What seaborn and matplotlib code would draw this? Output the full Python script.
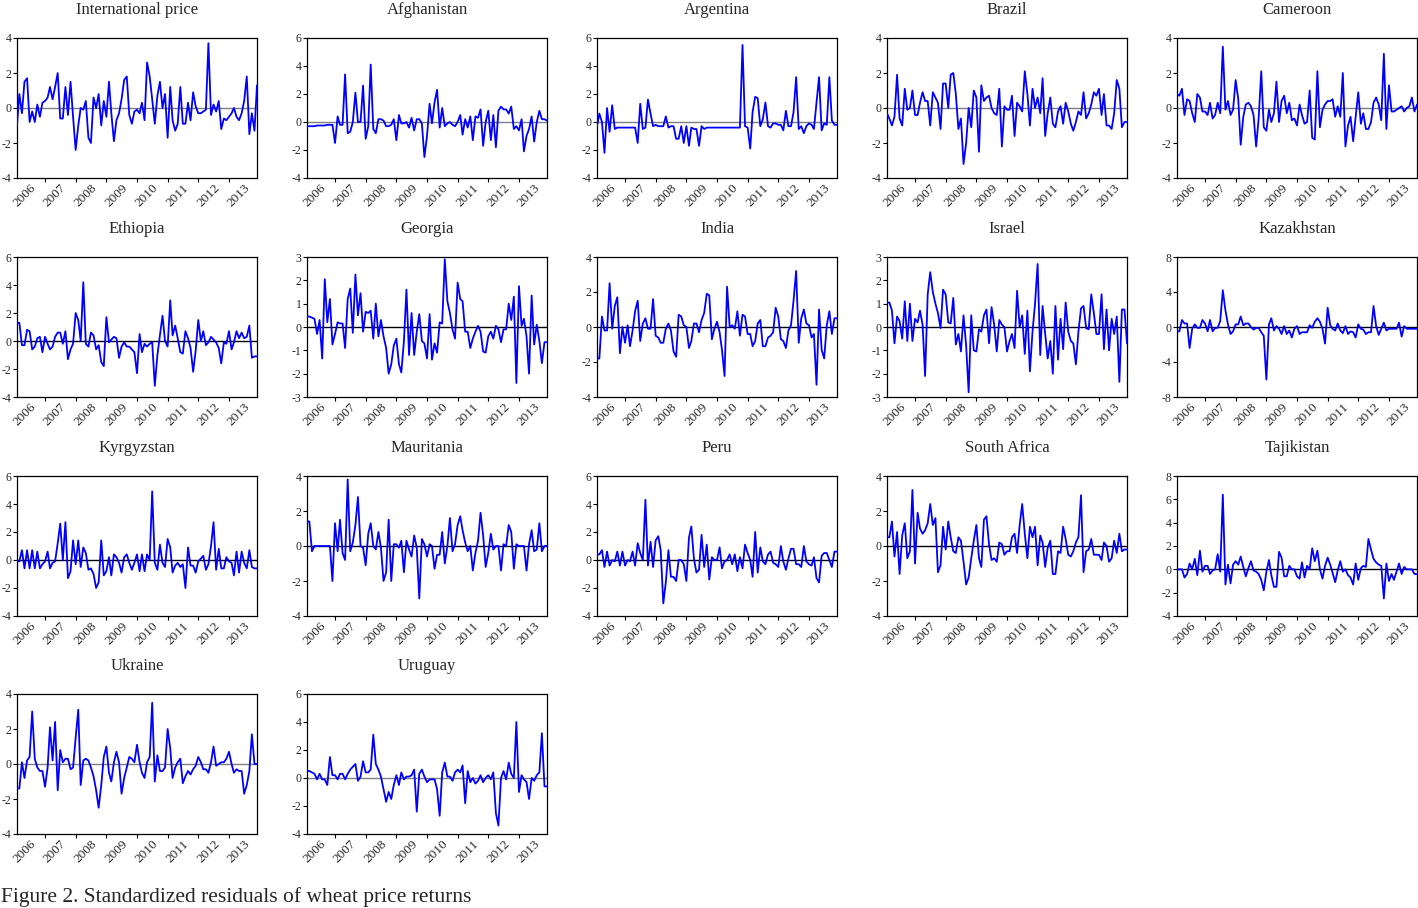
import numpy as np
import pandas as pd
import matplotlib
matplotlib.use("Agg")
import matplotlib.pyplot as plt
import matplotlib.dates as mdates
import seaborn as sns

# ---------------- data (standardized residuals, monthly Feb 2006 - Dec 2013) ----------------
intl_price = [
    -1.0, 0.8, -0.3, 1.5, 1.7, -0.8, -0.2, -0.8, 0.2, -0.5, 0.3,
    0.4, 0.6, 1.2, 0.5, 1.2, 2.0, -0.6, -0.6, 1.2, -0.4, 1.5, -0.5,
    -2.4, -1.0, 0.0, -0.1, 0.4, -1.7, -2.0, 0.6, 0.0, 0.8, -1.0, 0.4,
    -0.5, 1.5, -0.3, -1.9, -0.7, -0.3, 0.5, 1.6, 1.8, -0.4, -0.9, -0.2,
    -0.1, -0.3, 0.3, -0.7, 2.6, 1.8, 0.5, -0.9, 0.7, 1.5, 0.0, 0.8,
    -1.7, 1.2, -0.7, -1.3, -0.9, 1.2, -0.9, -0.9, 0.3, -0.7, 0.9, 0.1,
    -0.3, -0.3, -0.2, -0.1, 3.7, -0.4, 0.2, -0.2, 0.4, -1.2, -0.6, -0.7,
    -0.5, -0.3, 0.0, -0.5, -0.7, -0.3, 0.4, 1.8, -1.5, -0.3, -1.3, 1.3]

afghanistan = [
    -0.3, -0.3, -0.3, -0.3, -0.25, -0.25, -0.25, -0.25, -0.2, -0.2, -0.2,
    -1.5, 0.4, -0.2, -0.2, 3.4, -0.8, -0.7, 0.0, 2.1, 0.0, 0.0, 2.6,
    -1.2, -0.3, 4.1, -0.5, -0.8, 0.2, 0.2, 0.1, -0.3, -0.3, -0.2, 0.2,
    -1.3, 0.5, -0.1, -0.1, 0.0, -0.4, 0.3, -0.6, 0.2, 0.2, -0.1, -2.5,
    -1.0, 1.3, -0.1, 1.4, 2.3, -0.4, 1.0, -0.3, -0.1, 0.0, -0.2, -0.3,
    0.0, 0.5, -0.9, 0.2, -0.4, 0.4, -1.3, 0.4, 0.3, 0.9, -1.7, 0.0,
    0.8, -1.3, 0.5, -1.8, 0.8, 1.1, 0.9, 0.9, 0.6, 1.1, -0.5, -0.3,
    -0.6, 0.2, -2.1, -1.0, -0.5, 0.4, -1.4, 0.0, 0.8, 0.2, 0.2, 0.1]

argentina = [
    -0.3, 0.6, 0.0, -2.2, 1.0, -0.7, 1.2, -0.5, -0.4, -0.4, -0.4,
    -0.4, -0.4, -0.4, -0.4, -0.4, -1.5, 1.3, -0.5, -0.4, 1.6, 0.6, -0.3,
    -0.2, -0.3, -0.3, -0.3, 0.4, -0.4, -0.3, -0.3, -1.2, -1.2, -0.3, -1.5,
    -0.3, -1.7, -0.4, -0.5, -0.5, -1.7, -0.3, -0.5, -0.4, -0.4, -0.4, -0.4,
    -0.4, -0.4, -0.4, -0.4, -0.4, -0.4, -0.4, -0.4, -0.4, -0.4, 5.5, -0.3,
    -0.4, -1.9, 0.7, 1.8, 1.7, -0.3, 0.2, 1.4, -0.3, -0.4, -0.1, -0.1,
    -0.2, -0.2, -0.6, 0.8, -0.3, -0.3, 0.7, 3.2, -0.5, -0.3, -0.8, -0.3,
    -0.1, -0.2, -0.5, 1.4, 3.2, -0.6, -0.1, -0.2, 3.2, 0.1, -0.2, -0.2]

brazil = [
    -0.3, -0.6, -1.0, -0.5, 1.9, -0.6, -1.0, 1.1, -0.1, 0.0, 1.0,
    -0.4, -0.4, 0.3, 0.9, 0.4, 0.4, -1.0, 0.9, 0.6, 0.3, -1.2, 1.4,
    1.4, 0.0, 1.9, 2.0, 0.8, -1.2, -0.6, -3.2, -2.0, 0.0, -1.1, 1.0,
    0.6, -2.5, 1.3, 0.4, 0.6, 0.7, 0.0, -0.3, -0.4, 1.1, -2.2, 0.1,
    -0.1, -0.1, 0.7, -1.6, 0.3, 0.1, -0.2, 2.1, 0.8, -1.0, 1.1, 0.0,
    0.6, -0.3, 1.7, -1.6, -0.3, 0.6, -0.9, -1.1, -0.2, 0.1, -0.9, 0.3,
    -0.2, -0.9, -1.3, -0.8, -0.2, -0.4, 0.9, -0.6, -0.3, 0.2, 0.9, 0.7,
    1.1, -0.4, 0.8, -1.0, -1.0, -1.2, -0.3, 1.6, 1.1, -1.1, -0.8, -0.8]

cameroon = [
    0.8, 0.7, 1.1, -0.4, 0.5, 0.4, -0.3, -0.8, 0.8, 0.6, -0.2,
    -0.2, -0.4, 0.3, -0.6, -0.4, 0.3, -0.3, 3.5, -0.1, 0.4, -0.4, -0.1,
    1.6, 0.5, -2.1, -0.5, 0.2, 0.3, 0.1, -0.4, -2.2, -0.6, 2.1, -1.1,
    -1.3, -0.1, -0.8, -0.3, 1.5, -0.8, 0.4, 0.7, -0.3, 0.3, -0.7, -0.6,
    -1.0, 0.2, -0.4, -0.9, -0.8, 1.0, -1.7, -1.8, 2.1, -1.1, -0.1, 0.2,
    0.4, 0.4, 0.5, -0.5, 0.1, -0.5, 2.0, -2.2, -1.0, -0.5, -1.9, -0.5,
    0.9, -0.9, -0.3, -1.2, -1.2, -0.8, 0.3, 0.6, 0.2, -0.7, 3.1, -1.2,
    1.3, -0.2, -0.2, -0.1, 0.0, 0.1, -0.2, 0.0, 0.1, 0.6, -0.2, 0.2]

ethiopia = [
    1.3, 1.3, -0.3, -0.3, 0.8, 0.7, -0.6, -0.4, 0.2, 0.3, -0.8,
    0.3, -0.2, -0.6, -0.4, 0.3, 0.6, 0.6, -0.2, 0.7, -1.3, -0.6, -0.2,
    2.0, 1.5, 0.0, 4.2, -0.2, -0.4, 0.6, 0.4, -0.6, -0.3, -1.5, -1.8,
    1.7, -0.1, 0.1, 0.3, 0.2, -1.2, -0.4, -0.1, -0.4, -0.4, -0.6, -0.8,
    -2.3, 0.5, -0.8, -0.2, -0.4, -0.2, -0.1, -3.2, -1.0, 0.4, 1.8, 0.0,
    -0.4, 2.9, 0.4, 1.1, 0.2, -0.8, -0.9, 0.7, 0.2, -0.5, -2.2, -0.7,
    1.5, 0.0, 0.7, -0.3, -0.1, 0.3, 0.1, -0.1, -0.5, -1.6, -0.1, -0.2,
    0.7, -0.6, -0.1, 0.7, 0.2, 0.6, 0.2, 0.3, 1.1, -1.2, -1.1, -1.1]

georgia = [
    0.45, 0.45, 0.4, 0.35, -0.3, 0.3, -1.35, 2.05, 0.2, 1.2, -0.75,
    -0.3, 0.2, 0.15, 0.15, -0.9, 1.2, 1.65, -0.25, 2.25, 0.5, 1.45, -0.2,
    0.65, 0.6, 0.7, -0.5, 1.0, -0.4, 0.3, -0.4, -0.9, -2.0, -1.6, -0.8,
    -0.5, -1.6, -1.95, -0.6, 1.6, -1.2, 0.6, -1.2, -0.2, 0.55, -0.6, -0.7,
    -1.35, 0.55, -1.4, -0.7, -1.1, 0.2, 0.15, 2.9, 1.1, 0.6, -0.1, -0.5,
    1.9, 1.2, 1.1, -0.2, -0.2, -0.9, -0.5, -0.2, 0.05, -0.2, -1.05, -1.1,
    -0.4, -0.2, -0.5, 0.05, -0.1, -0.65, -0.1, -0.1, 1.0, 0.3, 1.3, -2.4,
    1.75, 0.05, 0.35, -0.4, -2.0, 1.35, -0.75, 0.1, -0.6, -1.55, -0.65, -0.65]

india = [
    -1.8, -1.8, 0.6, -0.2, -0.2, 2.5, -0.1, 1.2, 1.7, -1.5, 0.0,
    -0.9, 0.1, -1.1, -0.2, 0.9, 1.5, -0.8, 0.2, 0.5, -0.1, -0.1, 1.6,
    -0.5, -0.6, -0.9, -0.9, -0.1, 0.2, -0.2, -1.4, -1.7, 0.7, 0.6, 0.1,
    0.0, -1.2, -0.8, 0.2, 0.2, -0.3, 0.4, 0.8, 1.9, 1.8, -0.7, -0.1,
    0.3, -0.3, -1.3, -2.8, 2.3, 0.0, 0.1, -0.1, 0.9, -0.5, 0.7, 0.6,
    -0.4, -0.4, -1.1, -0.8, 0.2, 0.4, -1.1, -1.1, -0.6, -0.5, -0.3, 1.1,
    0.6, -0.7, -0.8, -1.2, -0.2, 0.1, 1.5, 3.2, -0.9, 0.5, 1.0, 0.2,
    0.1, -0.6, -0.4, -3.3, 1.0, -1.3, -1.8, 0.1, 0.9, -0.4, 0.5, 0.5]

israel = [
    1.05, 1.05, 0.7, -0.7, 0.45, 0.25, -0.5, 1.1, -0.6, 1.0, -0.6,
    0.35, 0.2, 0.7, 0.1, -2.1, 1.4, 2.35, 1.5, 1.0, 0.6, -0.05, 1.6,
    1.4, 0.2, 0.15, 1.25, -0.75, -0.3, -1.05, 0.5, -0.8, -2.8, 0.5, -1.0,
    -1.05, -0.1, -0.2, 0.5, 0.75, -0.7, 0.85, 0.1, -1.05, 0.3, 0.1, 0.0,
    -1.05, -0.6, -0.3, -0.9, 1.55, 0.0, 0.5, -1.15, 0.7, -1.9, -0.2, 1.0,
    2.7, -1.2, 0.9, -0.3, -1.35, -0.6, -2.0, 0.9, -1.4, 0.35, -0.95, 1.05,
    -0.2, -0.6, -0.7, -1.6, -0.2, 0.8, 0.9, -0.05, -0.1, 1.4, 0.6, -0.3,
    -0.3, 1.4, -0.95, 0.75, -1.0, 0.35, -0.3, 0.45, -2.35, 0.75, 0.75, -0.7]

kazakhstan = [
    -0.5, -0.5, 0.8, 0.4, 0.4, -2.4, -0.2, 0.3, -0.1, -0.1, 0.8,
    0.4, -0.5, 0.8, -0.5, -0.1, -0.1, 0.7, 4.2, 1.9, 0.3, -0.8, -0.5,
    0.3, 0.3, 1.2, 0.2, 0.4, 0.4, 0.0, -0.3, -0.1, -0.1, -0.6, -1.0,
    -6.0, 0.3, 1.0, -0.4, 0.1, -0.2, -0.8, 0.1, -0.8, -0.4, -1.2, -0.2,
    0.1, -0.8, -0.6, -0.6, -0.6, 0.2, -0.1, 0.6, 1.0, 0.6, -0.2, -1.9,
    2.2, 0.2, -0.2, -0.4, 0.4, -0.4, -0.7, 0.1, -0.8, -0.5, -0.6, -1.2,
    0.3, -0.2, -0.3, -0.8, -0.6, -0.6, 2.4, 0.1, -0.9, -0.2, 0.5, -0.4,
    -0.2, -0.2, -0.2, -0.2, 0.5, -1.1, 0.1, -0.2, -0.2, -0.2, -0.2, -0.2]

kyrgyzstan = [
    -0.1, -0.1, 0.7, -0.6, 0.7, -0.6, 0.7, -0.6, 0.6, -0.6, -0.3,
    -0.1, 0.6, -0.6, -0.2, -0.1, 1.2, 2.6, 0.0, 2.7, -1.3, -0.8, 1.4,
    -0.3, 1.4, -0.5, 0.9, 0.5, -0.7, -0.6, -1.0, -2.0, -1.6, 1.4, -1.1,
    -0.8, 0.2, -1.1, 0.4, 0.2, -0.2, -0.9, 0.2, 0.4, -0.2, -0.7, -0.2,
    0.4, -0.8, 0.4, -0.8, 0.4, 0.0, 4.9, -0.2, -0.7, 1.1, -0.2, -0.5,
    1.5, 0.9, -0.9, -0.4, -0.2, -0.5, -0.3, -2.0, 0.9, -0.4, -0.4, -0.9,
    -0.1, 0.1, 0.3, -0.7, -0.3, 1.0, 2.7, -0.7, 0.8, -0.6, -0.6, 0.2,
    -0.1, -0.2, -1.1, 0.6, -0.9, 0.6, -0.2, -0.6, 0.7, -0.5, -0.6, -0.6]

mauritania = [
    1.4, 1.4, -0.3, 0.0, 0.0, 0.0, 0.0, 0.0, 0.0, 0.0, -2.0,
    1.3, -0.3, 1.5, -0.4, -0.8, 3.8, -0.3, 0.2, 1.2, 2.8, 0.0, -0.1,
    -1.1, 0.7, 1.3, 0.0, -0.2, 0.8, -0.1, -2.0, -1.5, 1.5, -2.0, 0.1,
    0.1, -0.1, 0.3, -1.5, 0.3, -0.2, -0.6, 0.6, -0.1, -3.0, 0.4, 0.1,
    -0.6, 0.1, 0.0, -1.3, -0.5, -0.5, 0.8, -1.0, 0.0, 1.6, -0.3, 0.1,
    1.2, 1.7, 0.9, 0.2, -0.3, 0.0, -1.4, -0.4, 0.3, 1.9, 0.6, -1.2,
    -0.4, 0.7, -0.2, 0.0, 0.0, -1.4, 0.1, 0.0, 1.2, 0.8, -1.3, 0.1,
    0.0, 0.0, 0.0, -1.4, 0.1, 0.9, -0.3, -0.2, 1.3, -0.3, 0.0, 0.0]

peru = [
    0.4, 0.4, 0.7, -0.5, 0.6, -0.4, 0.0, -0.1, 0.6, -0.4, 0.6,
    -0.4, 0.0, -0.1, 0.6, -0.4, 1.2, 0.5, 0.0, 4.3, -0.4, 1.3, -0.5,
    1.4, 1.7, 0.7, -3.1, -1.6, 0.7, -1.2, -1.2, -1.5, 0.0, 0.0, -0.3,
    -1.5, 1.6, 2.4, 0.1, -0.9, -0.7, 1.8, -0.5, 1.1, -1.4, 0.2, 0.0,
    0.0, 0.9, -0.6, -0.1, 0.0, 0.4, -0.3, 0.4, -0.8, 0.2, -0.6, 1.1,
    0.5, 0.0, -1.2, 2.0, -0.9, 0.9, -0.1, -0.3, 0.4, 0.6, -0.2, -0.3,
    -0.5, 1.0, -0.1, -0.7, 0.1, 0.8, 0.8, -0.3, -0.3, -0.5, 1.0, -0.1,
    -0.3, -0.4, 0.2, -1.3, -1.6, 0.3, 0.5, 0.5, 0.0, -0.5, 0.6, 0.6]

south_africa = [
    0.5, 0.5, 1.4, -0.6, 0.8, -1.6, 0.6, 1.3, -0.7, -0.3, 3.2,
    -1.0, 1.9, 1.0, 0.7, 0.9, 1.3, 2.4, 1.2, 1.6, -1.5, -1.1, 1.1,
    -0.2, 1.4, 0.5, -0.3, -0.4, 0.5, 0.3, -0.9, -2.2, -1.8, -0.7, 0.3,
    1.2, -0.7, -1.2, 1.5, 1.7, 0.1, -0.8, -0.7, -0.9, 0.2, 0.1, -0.5,
    -0.3, -0.3, 0.5, 0.7, -0.4, 1.2, 2.4, 0.7, -0.7, 1.1, 0.5, 1.1,
    -1.1, 0.6, 0.2, -1.2, -0.1, 0.3, -1.6, -1.6, -0.3, -0.4, 1.1, 0.4,
    -0.5, -0.6, -0.3, 0.2, 0.5, 2.9, -1.5, -0.3, -0.2, 0.4, -0.5, -0.5,
    -0.5, -0.8, 0.2, 0.0, -0.9, -0.7, 0.3, -0.4, 0.7, -0.3, -0.2, -0.2]

tajikistan = [
    0.0, 0.0, 0.0, -0.7, -0.4, 0.5, 0.0, 0.9, -0.5, 1.6, -0.2,
    0.3, 0.3, -0.4, -0.1, 0.0, 1.3, -0.2, 6.4, -1.3, 0.4, -1.2, 0.4,
    0.7, 0.4, 1.1, 0.2, -0.6, 0.1, 0.7, -0.1, -0.2, -0.4, -0.9, -1.8,
    -0.2, 0.8, -0.5, -1.5, -1.5, 1.5, 1.0, -0.6, -0.6, 0.3, 0.0, 0.0,
    -0.6, -0.8, 0.6, -0.7, 0.3, 0.0, 1.8, 0.7, 1.6, 0.0, -0.8, 0.3,
    1.0, 0.4, -0.3, -1.1, -0.1, 0.7, -0.2, 0.0, -0.5, -0.7, -1.3, 0.5,
    -0.9, 0.1, 0.3, 0.2, 2.6, 1.7, 0.9, 0.6, 0.4, 0.3, -2.5, 0.5,
    -1.0, -0.4, -0.9, -0.2, 0.5, -0.4, 0.2, 0.0, 0.0, 0.0, -0.4, -0.4]

ukraine = [
    -1.4, -1.4, 0.1, -0.8, 0.2, 0.4, 3.0, 0.3, -0.2, -0.4, -0.4,
    -1.3, -0.2, 2.1, 0.2, 2.4, -1.5, 0.8, 0.1, 0.3, 0.3, -0.3, -0.2,
    1.5, 3.1, -1.2, 0.2, 0.3, 0.2, -0.2, -0.7, -1.5, -2.5, -1.2, 0.4,
    1.0, -0.5, -1.0, 0.1, 0.7, 0.1, -1.7, -0.8, -0.2, 0.4, 0.3, 0.1,
    1.1, 0.1, -0.5, -0.8, 0.1, 0.4, 3.5, -1.0, 0.5, -0.4, -0.4, -0.2,
    2.0, 0.9, -0.8, -0.2, 0.1, 0.3, -1.1, -0.7, -0.4, -0.6, -0.3, -0.1,
    0.4, 0.1, -0.3, -0.3, -0.5, 0.1, 1.0, -0.1, 0.0, 0.1, 0.1, 0.3,
    0.7, 0.0, -0.5, -0.3, -0.4, -0.4, -1.7, -1.2, -0.4, 1.7, 0.0, 0.0]

uruguay = [
    0.5, 0.5, 0.4, 0.3, -0.1, 0.3, -0.1, -0.1, -0.5, 1.5, 0.2,
    0.2, -0.1, 0.3, 0.3, -0.1, 0.3, 0.6, 0.8, 1.0, -0.2, 0.1, 1.2,
    0.4, 0.4, 0.6, 3.1, 1.0, 0.6, 0.1, -0.8, -1.7, -1.0, -1.5, -0.5,
    0.2, -0.5, 0.4, -0.1, 0.1, 0.1, 0.2, 0.6, -2.4, 0.3, 0.6, 0.1,
    -0.3, -0.1, -0.1, -0.1, -0.8, -2.7, 0.4, 1.1, 0.1, 0.1, -0.2, 0.4,
    0.6, 0.4, 0.9, -1.8, 0.5, -0.3, 0.0, -0.4, -0.2, 0.2, -0.3, 0.0,
    0.2, -0.1, 0.4, -2.5, -3.4, 0.0, 0.5, -0.1, 1.1, 0.3, 0.0, 4.0,
    -1.0, 0.2, -0.1, -0.3, -1.5, 0.0, -0.2, 0.2, 0.4, 3.2, -0.6, -0.6]

titles = ["International price", "Afghanistan", "Argentina", "Brazil", "Cameroon",
          "Ethiopia", "Georgia", "India", "Israel", "Kazakhstan",
          "Kyrgyzstan", "Mauritania", "Peru", "South Africa", "Tajikistan",
          "Ukraine", "Uruguay"]
series = [intl_price, afghanistan, argentina, brazil, cameroon,
          ethiopia, georgia, india, israel, kazakhstan,
          kyrgyzstan, mauritania, peru, south_africa, tajikistan,
          ukraine, uruguay]
y_ranges = [(-4, 4, 2), (-4, 6, 2), (-4, 6, 2), (-4, 4, 2), (-4, 4, 2),
            (-4, 6, 2), (-3, 3, 1), (-4, 4, 2), (-3, 3, 1), (-8, 8, 4),
            (-4, 6, 2), (-4, 4, 2), (-4, 6, 2), (-4, 4, 2), (-4, 8, 2),
            (-4, 4, 2), (-4, 6, 2)]
gray_zero = {"International price", "Afghanistan", "Argentina", "Brazil",
             "Cameroon", "Ukraine", "Uruguay"}
years = [2006, 2007, 2008, 2009, 2010, 2011, 2012, 2013]
caption = "Figure 2. Standardized residuals of wheat price returns"

# ---------------- style ----------------
sns.set_theme(style="white")
plt.rcParams["font.family"] = ["Liberation Serif", "DejaVu Serif"]
plt.rcParams["axes.unicode_minus"] = False

W, H = 1418, 908
fig = plt.figure(figsize=(W / 100, H / 100), dpi=100)
fig.patch.set_facecolor("white")

col_left = [17, 307, 597, 887, 1177]
row_top = [38, 257, 476, 694]
pw, ph = 240, 140

dates = pd.date_range("2006-02-01", periods=95, freq="MS")
major_ticks = [mdates.date2num(pd.Timestamp(f"{y}-01-01")) for y in years[1:]]
minor_ticks = [mdates.date2num(pd.Timestamp(f"{y}-07-01")) for y in years]

for k, (title, vals) in enumerate(zip(titles, series)):
    r, c = divmod(k, 5)
    ax = fig.add_axes([col_left[c] / W, 1 - (row_top[r] + ph) / H, pw / W, ph / H])
    df = pd.DataFrame({"date": dates[:len(vals)], "value": vals})
    ax.axhline(0, color="#7f7f7f" if title in gray_zero else "black", lw=1.0, zorder=1)
    sns.lineplot(data=df, x="date", y="value", ax=ax, color="#0000FF",
                 linewidth=1.3, zorder=3, legend=False)
    lo, hi, st = y_ranges[k]
    ax.set_ylim(lo, hi)
    ax.set_yticks(np.arange(lo, hi + st, st))
    ax.set_yticklabels([str(int(v)) for v in np.arange(lo, hi + st, st)])
    ax.set_xlim(mdates.date2num(df["date"].iloc[0]), mdates.date2num(df["date"].iloc[-1]))
    ax.set_xticks(major_ticks)
    ax.set_xticklabels([])
    ax.set_xticks(minor_ticks, minor=True)
    ax.set_xticklabels([str(y) for y in years], minor=True, rotation=45,
                       ha="right", va="top", rotation_mode="anchor", fontsize=9.5)
    ax.tick_params(axis="x", which="major", bottom=True, direction="out", length=3,
                   width=0.8, color="black")
    ax.tick_params(axis="x", which="minor", bottom=True, length=0, pad=3)
    ax.tick_params(axis="y", left=True, direction="out", length=3, width=0.8,
                   color="black", labelsize=8.5, pad=1)
    ax.set_xlabel("")
    ax.set_ylabel("")
    for sp in ax.spines.values():
        sp.set_visible(True)
        sp.set_color("black")
        sp.set_linewidth(0.9)
    ax.annotate(title, xy=(0.5, 1.0), xycoords="axes fraction", xytext=(0, 17),
                textcoords="offset points", ha="center", va="baseline", fontsize=12)

fig.text(1 / W, 1 - 902 / H, caption, ha="left", va="baseline", fontsize=15.5)

fig.savefig("out.png", dpi=100, facecolor="white")
